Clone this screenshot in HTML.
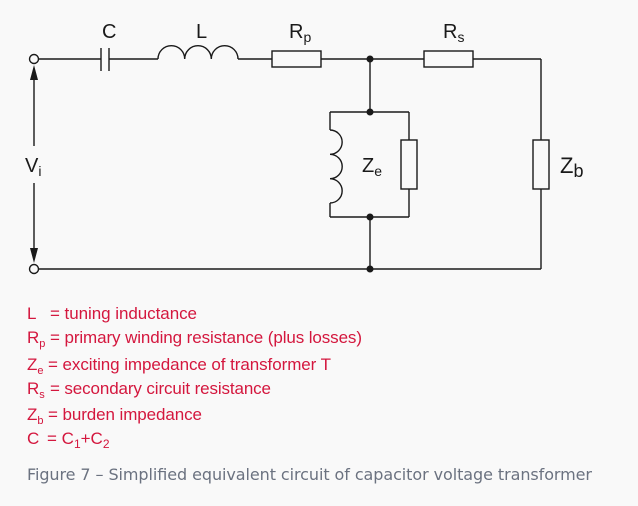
<!DOCTYPE html>
<html><head><meta charset="utf-8"><style>
html,body{margin:0;padding:0;background:#f9f9f9;}
svg{display:block;}
.lab{font-family:"Liberation Sans",Arial,sans-serif;}
.cap{font-family:"DejaVu Sans",sans-serif;}
</style></head><body>
<svg width="638" height="506" viewBox="0 0 638 506" xmlns="http://www.w3.org/2000/svg">
<rect width="638" height="506" fill="#f9f9f9"/>
<g stroke="#1a1a1a" stroke-width="1.4" fill="none">
  <line x1="38" y1="59" x2="101" y2="59"/>
  <line x1="101" y1="48" x2="101" y2="71"/>
  <line x1="109" y1="48" x2="109" y2="71"/>
  <line x1="109" y1="59" x2="158" y2="59"/>
  <path d="M158 59 A13.3 13.3 0 0 1 184.7 59 A13.3 13.3 0 0 1 211.3 59 A13.3 13.3 0 0 1 238 59"/>
  <line x1="238" y1="59" x2="272" y2="59"/>
  <rect x="272" y="51" width="49" height="16"/>
  <line x1="321" y1="59" x2="424" y2="59"/>
  <rect x="424" y="51" width="49" height="16"/>
  <line x1="473" y1="59" x2="541" y2="59"/>
  <line x1="541" y1="59" x2="541" y2="140"/>
  <rect x="533" y="140" width="16" height="49"/>
  <line x1="541" y1="189" x2="541" y2="269"/>
  <line x1="38" y1="269" x2="541" y2="269"/>
  <line x1="370" y1="59" x2="370" y2="112"/>
  <line x1="330" y1="112" x2="409" y2="112"/>
  <line x1="330" y1="112" x2="330" y2="130"/>
  <path d="M330 130 A12 12 0 0 1 330 154.3 A12 12 0 0 1 330 178.7 A12 12 0 0 1 330 203"/>
  <line x1="330" y1="203" x2="330" y2="217"/>
  <line x1="409" y1="112" x2="409" y2="140"/>
  <rect x="401" y="140" width="16" height="49"/>
  <line x1="409" y1="189" x2="409" y2="217"/>
  <line x1="330" y1="217" x2="409" y2="217"/>
  <line x1="370" y1="217" x2="370" y2="269"/>
  <circle cx="34" cy="59" r="4.5" fill="#f9f9f9"/>
  <circle cx="34" cy="269" r="4.5" fill="#f9f9f9"/>
  <line x1="34" y1="75" x2="34" y2="146"/>
  <line x1="34" y1="183" x2="34" y2="252"/>
</g>
<g fill="#1a1a1a">
  <polygon points="34,65 30,80 38,80"/>
  <polygon points="34,263 30,248 38,248"/>
  <circle cx="370" cy="59" r="3.5"/>
  <circle cx="370" cy="112" r="3.5"/>
  <circle cx="370" cy="217" r="3.5"/>
  <circle cx="370" cy="269" r="3.5"/>
</g>
<g class="lab" fill="#1a1a1a" font-size="20">
  <text x="102" y="38">C</text>
  <text x="196" y="38">L</text>
  <text x="289" y="38">R<tspan font-size="14" dy="4">p</tspan></text>
  <text x="443" y="38">R<tspan font-size="14" dy="4">s</tspan></text>
  <text x="25" y="172">V<tspan font-size="14" dy="4">i</tspan></text>
  <text x="362" y="172">Z<tspan font-size="14" dy="4">e</tspan></text>
  <text x="560" y="173" font-size="22">Z<tspan font-size="18" dy="4">b</tspan></text>
</g>
<g class="lab" fill="#d4173e" font-size="17">
  <text x="27" y="319">L<tspan x="50" textLength="147" lengthAdjust="spacing">= tuning inductance</tspan></text>
  <text x="27" y="343">R<tspan font-size="11" dy="4">p</tspan><tspan x="50" dy="-4" textLength="312" lengthAdjust="spacing">= primary winding resistance (plus losses)</tspan></text>
  <text x="27" y="370">Z<tspan font-size="11" dy="4">e</tspan><tspan x="48" dy="-4" textLength="283" lengthAdjust="spacing">= exciting impedance of transformer T</tspan></text>
  <text x="27" y="394">R<tspan font-size="11" dy="4">s</tspan><tspan x="50" dy="-4" textLength="221" lengthAdjust="spacing">= secondary circuit resistance</tspan></text>
  <text x="27" y="420">Z<tspan font-size="11" dy="4">b</tspan><tspan x="48" dy="-4" textLength="154" lengthAdjust="spacing">= burden impedance</tspan></text>
  <text x="27" y="444">C<tspan x="47">= C</tspan><tspan font-size="12" dy="4">1</tspan><tspan dy="-4">+C</tspan><tspan font-size="12" dy="4">2</tspan></text>
</g>
<text class="cap" x="27" y="480" font-size="16" fill="#6b7280" textLength="565" lengthAdjust="spacing">Figure 7 – Simplified equivalent circuit of capacitor voltage transformer</text>
</svg>
</body></html>
